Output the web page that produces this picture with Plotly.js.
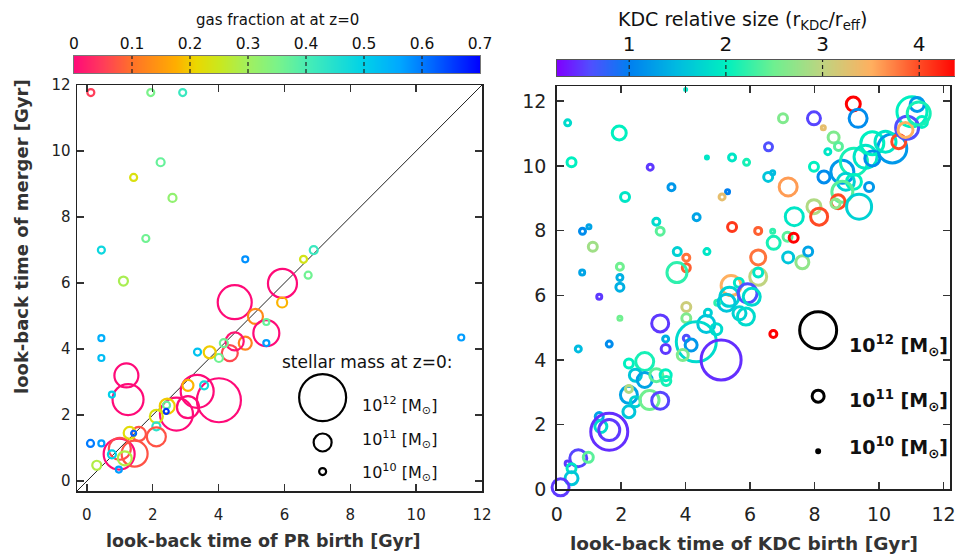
<!DOCTYPE html>
<html><head><meta charset="utf-8">
<script src="https://cdn.plot.ly/plotly-3.0.1.min.js"></script>
<style>body{margin:0;background:#fff}#plot{width:955px;height:555px}</style>
</head><body><div id="plot"></div>
<script>
// ---- Left panel: PR birth vs merger time ----
const prBirth   = [0.12,1.94,2.91,2.24,1.42,2.6,1.79,0.44,1.11,4.81,6.89,6.58,6.72,5.94,5.93,4.49,5.12,5.45,5.45,5.45,11.37,4.81,4.34,4.49,4.16,4.01,3.73,3.36,4.01,3.35,3.07,3.56,3.07,2.72,2.44,2.42,2.41,2.11,2.11,2.11,1.2,1.25,0.76,0.44,0.44,0.11,0.44,0.3,0.98,1.0,1.45,1.15,0.76,0.97,1.58,1.3,1.42];
const prMerger  = [11.77,11.77,11.77,9.66,9.2,8.58,7.35,7.0,6.06,6.72,7.0,6.72,6.24,5.99,5.41,5.42,4.99,4.48,4.82,4.18,4.35,4.18,3.88,4.23,4.18,3.73,3.9,3.91,2.45,2.72,2.9,2.9,2.24,2.03,2.27,2.3,2.11,1.96,1.66,1.34,3.2,2.47,2.62,4.33,3.73,1.14,1.14,0.48,0.82,0.98,0.83,0.69,0.81,0.35,1.43,1.46,1.45];
const prDiam    = [9,9,9,10,9,10,9,9,11,8,10,9,9,31,12,36,17,28,8,8,8,15,18,20,10,10,14,9,46,35,13,10,24,35,17,9,7,15,10,21,26,33,8,8,8,9,8,11,33,24,28,16,10,8,16,14,7];
const gasFraction = [0.05,0.35,0.42,0.37,0.23,0.32,0.36,0.48,0.29,0.58,0.42,0.24,0.36,0.0,0.18,0.0,0.13,0.0,0.37,0.57,0.57,0.12,0.06,0.01,0.36,0.36,0.2,0.52,0.0,0.0,0.18,0.47,0.0,0.0,0.2,0.37,0.66,0.23,0.44,0.07,0.0,0.0,0.5,0.55,0.53,0.6,0.57,0.28,0.0,0.06,0.07,0.28,0.5,0.57,0.07,0.22,0.62];

// ---- Right panel: KDC birth vs merger time ----
const kdcBirth  = [4.0,0.34,1.94,0.46,2.9,4.66,5.44,5.89,3.56,5.3,5.13,2.12,3.09,3.21,4.34,5.44,0.8,1.0,1.12,3.74,4.02,4.02,4.66,3.73,0.79,1.96,1.96,1.96,5.41,5.65,1.32,6.56,6.7,7.18,6.25,7.37,6.7,6.73,7.16,7.35,7.18,7.62,6.25,6.25,6.25,5.36,5.92,6.05,4.98,5.27,5.67,5.87,4.02,4.02,3.21,4.69,4.64,4.95,6.72,1.96,0.67,1.63,3.38,3.38,4.33,4.02,4.17,3.91,5.1,2.24,2.73,2.44,2.73,3.09,3.38,3.4,2.24,2.24,2.44,2.24,2.88,3.21,1.32,1.37,1.63,1.63,0.67,0.98,0.34,0.46,0.46,-0.02,0.12,9.2,9.35,7.02,7.98,8.27,8.59,8.74,8.41,6.57,7.98,8.29,8.86,9.22,8.97,9.22,9.69,8.86,9.58,9.79,9.79,10.41,10.2,10.61,11.02,11.18,11.33,10.87,10.82,11.23,8.73,8.65,9.38,7.98,8.14,7.8];
const kdcMerger = [12.36,11.33,11.02,10.11,9.96,10.26,10.26,10.11,9.34,9.2,9.04,9.04,8.27,7.98,8.41,8.11,7.98,8.12,7.5,7.35,7.16,6.85,7.35,6.7,6.7,6.88,6.55,6.25,6.3,6.39,5.95,9.66,9.79,9.35,7.99,8.43,7.98,7.62,7.81,7.78,7.17,7.02,7.17,6.57,6.7,5.95,6.06,5.95,5.77,5.77,5.44,5.34,5.64,5.29,5.13,5.46,5.11,4.95,4.8,5.29,4.34,4.49,4.65,4.34,4.56,4.67,4.46,4.15,4.0,3.89,3.95,3.53,3.38,3.53,3.53,3.35,2.92,3.1,2.71,2.4,2.76,2.74,2.25,1.94,1.78,1.83,0.96,0.99,0.8,0.65,0.34,0.37,0.06,11.91,11.47,11.47,11.47,11.18,10.88,10.6,10.44,10.59,9.97,9.66,9.82,10.13,9.51,9.51,9.35,9.2,10.28,10.23,10.7,10.54,10.75,10.75,11.67,11.9,11.36,11.18,11.11,11.62,8.89,8.84,8.74,8.74,8.43,7.35];
const kdcDiam   = [5,9,17,12,9,6,10,9,10,7,9,12,10,11,10,12,9,7,12,11,10,11,9,23,8,10,9,11,23,12,8,12,7,21,10,21,7,16,12,12,14,16,18,20,12,22,22,20,8,20,16,20,12,12,20,10,20,14,10,7,9,9,9,12,43,9,15,14,43,12,21,15,18,16,14,12,20,10,13,15,22,20,11,15,40,24,20,13,8,12,16,13,20,17,21,12,16,7,14,11,9,11,12,15,26,30,20,18,12,24,26,18,26,32,24,17,33,17,14,26,18,26,17,12,28,17,20,12];
const kdcRelSize = [1.9,1.8,2.0,2.0,0.5,1.9,1.9,2.1,1.2,1.0,3.3,1.9,1.8,2.4,1.3,4.1,1.1,1.3,2.8,1.7,3.8,3.9,1.9,2.2,1.3,2.5,1.4,1.4,3.5,1.9,0.5,1.6,1.5,3.6,3.9,1.9,2.2,2.1,2.4,4.4,1.6,2.7,3.8,3.0,1.9,1.7,0.6,1.8,2.2,1.6,1.7,1.8,3.1,2.6,0.5,1.7,1.6,1.8,4.4,2.5,1.5,1.1,1.4,0.5,1.8,0.6,1.2,2.6,0.45,2.0,2.1,1.6,1.3,2.4,2.0,2.1,1.3,2.9,1.7,1.6,2.5,0.55,1.3,1.8,0.45,0.5,0.55,2.4,0.5,1.9,1.6,1.5,0.5,4.4,1.1,2.6,0.55,3.3,2.6,2.4,1.9,0.6,2.0,1.1,1.2,2.1,1.7,2.0,1.2,2.4,1.9,1.1,2.0,1.2,1.9,4.0,2.0,1.2,2.0,0.6,3.5,2.1,4.0,2.7,1.7,2.9,4.0,1.3];

// ---- Size legend ----
const massLabels = ['10<sup>12</sup> [M<sub>⊙</sub>]','10<sup>11</sup> [M<sub>⊙</sub>]','10<sup>10</sup> [M<sub>⊙</sub>]'];
const massLegendDiamLeft  = [49, 20, 9];
const massLegendDiamRight = [40, 15, 6];
const massLegendYLeft  = [2.53, 1.17, 0.29];
const massLegendYRight = [4.92, 2.88, 1.18];

// ---- Colorbar ticks ----
const gasTicks = [0,0.1,0.2,0.3,0.4,0.5,0.6,0.7];
const gasRange = [0, 0.7];
const kdcTicks = [1,2,3,4];
const kdcRange = [0.25, 4.4];

const gasScale = [[0,'#ff0a78'],[0.07,'#ff3c5a'],[0.143,'#ff7228'],[0.25,'#ffae00'],[0.3,'#ead800'],[0.36,'#c8e820'],[0.43,'#a0f060'],[0.5,'#7af38a'],[0.58,'#44ecb8'],[0.71,'#00d2e8'],[0.8,'#00a8ff'],[0.87,'#0070ff'],[1,'#0000ff']];
const kdcScale = [[0,'#8000ff'],[0.084,'#5050ff'],[0.181,'#0080f0'],[0.301,'#00bce0'],[0.422,'#00f0c0'],[0.542,'#70f090'],[0.663,'#c0d480'],[0.783,'#ffb060'],[0.904,'#ff4a24'],[1,'#ff0000']];

const FONT = 'DejaVu Sans, Verdana, sans-serif';

const traces = [
  {type:'scatter', mode:'markers', x:prBirth, y:prMerger, xaxis:'x', yaxis:'y', cliponaxis:false, hoverinfo:'skip',
   marker:{symbol:'circle-open', opacity:1, size:prDiam.map(d=>d-2), color:gasFraction, colorscale:gasScale, cmin:gasRange[0], cmax:gasRange[1], showscale:false, line:{width:2.2}}},
  {type:'scatter', mode:'markers', x:massLegendYLeft.map(()=>7.16), y:massLegendYLeft, xaxis:'x', yaxis:'y', cliponaxis:false, hoverinfo:'skip',
   marker:{symbol:'circle-open', opacity:1, size:massLegendDiamLeft.map(d=>d-2), color:'#000', line:{width:2.2}}},
  {type:'scatter', mode:'markers', x:kdcBirth, y:kdcMerger, xaxis:'x2', yaxis:'y2', cliponaxis:false, hoverinfo:'skip',
   marker:{symbol:'circle-open', opacity:1, size:kdcDiam.map(d=>Math.max(d-3,2)), color:kdcRelSize, colorscale:kdcScale, cmin:kdcRange[0], cmax:kdcRange[1], showscale:false, line:{width:3}}},
  {type:'scatter', mode:'markers', x:massLegendYRight.map(()=>8.11), y:massLegendYRight, xaxis:'x2', yaxis:'y2', cliponaxis:false, hoverinfo:'skip',
   marker:{symbol:'circle-open', opacity:1, size:massLegendDiamRight.map(d=>Math.max(d-3,3)), color:'#000', line:{width:3}}},
  {type:'heatmap', x:gasRange, y:[0,1], z:[gasRange, gasRange], zsmooth:'best', colorscale:gasScale, zmin:gasRange[0], zmax:gasRange[1], showscale:false, xaxis:'x3', yaxis:'y3', hoverinfo:'skip'},
  {type:'heatmap', x:kdcRange, y:[0,1], z:[kdcRange, kdcRange], zsmooth:'best', colorscale:kdcScale, zmin:kdcRange[0], zmax:kdcRange[1], showscale:false, xaxis:'x4', yaxis:'y4', hoverinfo:'skip'}
];

const mainAx = (extra)=>Object.assign({showgrid:false, zeroline:false, showline:true, linecolor:'#222', linewidth:1.5, mirror:'ticks',
  ticks:'inside', ticklen:7, tickwidth:1.5, tickcolor:'#333', ticklabeloverflow:'allow', tickfont:{family:FONT, size:15, color:'#222'}}, extra);

const shapes = [
  {type:'line', xref:'x', yref:'y', x0:-0.3, y0:-0.3, x1:12, y1:12, line:{color:'#222', width:1}, layer:'below'}
];
gasTicks.slice(1,-1).forEach(t=>shapes.push({type:'line', xref:'x3', yref:'y3 domain', x0:t, x1:t, y0:0, y1:1, line:{color:'#222', width:1.2, dash:'4px,3px'}, layer:'above'}));
kdcTicks.forEach(t=>shapes.push({type:'line', xref:'x4', yref:'y4 domain', x0:t, x1:t, y0:0, y1:1, line:{color:'#222', width:1.2, dash:'4px,3px'}, layer:'above'}));

const annotations = [
  {text:'gas fraction at at z=0', xref:'paper', yref:'paper', x:277/955, y:(555-20)/555, showarrow:false, xanchor:'center', yanchor:'middle', font:{family:FONT, size:15, color:'#111'}},
  {text:'KDC relative size (r<sub>KDC</sub>/r<sub>eff</sub>)', xref:'paper', yref:'paper', x:742/955, y:(555-21)/555, showarrow:false, xanchor:'center', yanchor:'middle', font:{family:FONT, size:19, color:'#111'}},
  {text:'<b>look-back time of merger [Gyr]</b>', xref:'paper', yref:'paper', x:22/955, y:(555-237)/555, textangle:-90, showarrow:false, xanchor:'center', yanchor:'middle', font:{family:FONT, size:18, color:'#333'}},
  {text:'<b>look-back time of PR birth [Gyr]</b>', xref:'paper', yref:'paper', x:263/955, y:14/555, showarrow:false, xanchor:'center', yanchor:'middle', font:{family:FONT, size:17.5, color:'#333'}},
  {text:'<b>look-back time of KDC birth [Gyr]</b>', xref:'paper', yref:'paper', x:744/955, y:12/555, showarrow:false, xanchor:'center', yanchor:'middle', font:{family:FONT, size:18.5, color:'#333'}},
  {text:'stellar mass at z=0:', xref:'x', yref:'y', x:8.53, y:3.62, showarrow:false, xanchor:'center', yanchor:'middle', font:{family:FONT, size:17, color:'#111'}}
];
massLabels.forEach((t,i)=>{
  annotations.push({text:t, xref:'x', yref:'y', x:8.3, y:[2.29,1.26,0.26][i], showarrow:false, xanchor:'left', yanchor:'middle', font:{family:FONT, size:16, color:'#111'}});
  annotations.push({text:'<b>'+t+'</b>', xref:'x2', yref:'y2', x:9.0, y:[4.46,2.76,1.28][i], showarrow:false, xanchor:'left', yanchor:'middle', font:{family:FONT, size:19, color:'#111'}});
});

const layout = {
  width:955, height:555, margin:{l:0,r:0,t:0,b:0}, paper_bgcolor:'#fff', plot_bgcolor:'rgba(0,0,0,0)', showlegend:false,
  font:{family:FONT},
  xaxis: mainAx({domain:[77/955, 482/955], range:[-0.3,12], tickvals:[0,2,4,6,8,10,12], anchor:'y', ticklabelstandoff:9}),
  yaxis: mainAx({domain:[64/555, 470/555], range:[-0.3,12], tickvals:[0,2,4,6,8,10,12], anchor:'x', ticklabelstandoff:2}),
  xaxis2: mainAx({domain:[556.7/955, 950/955], range:[0,12.2], tickvals:[0,2,4,6,8,10,12], anchor:'y2', ticklabelstandoff:7, tickfont:{family:FONT, size:19, color:'#222'}}),
  yaxis2: mainAx({domain:[65.7/555, 469/555], range:[0,12.47], tickvals:[0,2,4,6,8,10,12], anchor:'x2', ticklabelstandoff:5, tickfont:{family:FONT, size:19, color:'#222'}}),
  xaxis3: {domain:[74/955, 480/955], range:gasRange, anchor:'y3', side:'top', tickvals:gasTicks, ticks:'', ticklabeloverflow:'allow', showgrid:false, zeroline:false, showline:true, mirror:true, linecolor:'#777', linewidth:1, tickfont:{family:FONT, size:15.5, color:'#111'}},
  yaxis3: {domain:[482/555, 499/555], range:[0,1], anchor:'x3', showticklabels:false, ticks:'', showgrid:false, zeroline:false, showline:true, mirror:true, linecolor:'#777', linewidth:1},
  xaxis4: {domain:[556.7/955, 1], range:[0.25,4.37], anchor:'y4', side:'top', tickvals:kdcTicks, ticks:'', ticklabeloverflow:'allow', showgrid:false, zeroline:false, showline:true, mirror:true, linecolor:'#555', linewidth:1, tickfont:{family:FONT, size:20, color:'#111'}},
  yaxis4: {domain:[479/555, 495/555], range:[0,1], anchor:'x4', showticklabels:false, ticks:'', showgrid:false, zeroline:false, showline:true, mirror:true, linecolor:'#555', linewidth:1},
  shapes: shapes,
  annotations: annotations
};

Plotly.newPlot('plot', traces, layout, {staticPlot:true, displayModeBar:false});
</script>
</body></html>
